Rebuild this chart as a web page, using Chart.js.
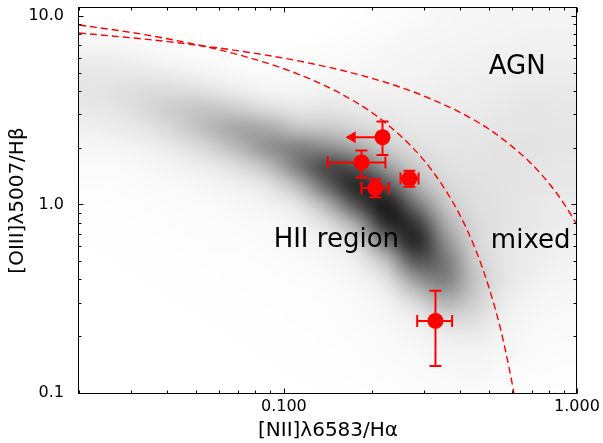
<!DOCTYPE html>
<html>
<head>
<meta charset="utf-8">
<script src="https://cdn.jsdelivr.net/npm/chart.js@4.4.1/dist/chart.umd.min.js"></script>
<style>
  html, body { margin: 0; padding: 0; background: #ffffff; }
  #wrap { width: 603px; height: 443px; }
</style>
</head>
<body>
<div id="wrap"><canvas id="bpt" width="603" height="443"></canvas></div>
<script>
// ---- Axis ticks -------------------------------------------------------
const xMajorTicks = [0.1, 1.0];
const xTickLabels = ['0.100', '1.000'];
const xMinorTicks = [0.02, 0.03, 0.04, 0.05, 0.06, 0.07, 0.08, 0.09, 0.2, 0.3, 0.4, 0.5, 0.6, 0.7, 0.8, 0.9];
const yMajorTicks = [0.1, 1.0, 10.0];
const yTickLabels = ['0.1', '1.0', '10.0'];
const yMinorTicks = [0.2, 0.3, 0.4, 0.5, 0.6, 0.7, 0.8, 0.9, 2, 3, 4, 5, 6, 7, 8, 9];

// ---- Demarcation curves -------------------------------------------------
const kauffmannX = [0.02, 0.03, 0.04, 0.06, 0.08, 0.1, 0.13, 0.16, 0.2, 0.25, 0.3, 0.35, 0.4, 0.45, 0.5, 0.55, 0.58, 0.6, 0.61];
const kauffmannY = [8.94, 8.17, 7.56, 6.61, 5.86, 5.24, 4.45, 3.79, 3.06, 2.31, 1.72, 1.24, 0.868, 0.580, 0.365, 0.215, 0.148, 0.114, 0.099];
const kewleyX = [0.02, 0.03, 0.04, 0.06, 0.08, 0.1, 0.13, 0.16, 0.2, 0.25, 0.3, 0.4, 0.5, 0.6, 0.7, 0.8, 0.9, 1.0];
const kewleyY = [8.11, 7.65, 7.30, 6.75, 6.32, 5.96, 5.50, 5.11, 4.66, 4.18, 3.76, 3.07, 2.51, 2.03, 1.64, 1.30, 1.017, 0.78];

// ---- Measured objects with error bars ---------------------------------
const objX   = [0.217, 0.184, 0.205, 0.268, 0.329];
const objY   = [2.27, 1.67, 1.22, 1.37, 0.241];
const objXLo = [0.165, 0.141, 0.184, 0.250, 0.285];
const objXHi = [0.217, 0.222, 0.228, 0.288, 0.375];
const objYLo = [1.83, 1.39, 1.09, 1.24, 0.139];
const objYHi = [2.75, 1.93, 1.36, 1.51, 0.348];
const objXUpperLimit = [true, false, false, false, false];

// ---- Region labels -----------------------------------------------------
const regionNames = ['AGN', 'HII region', 'mixed'];
const regionX = [0.625, 0.151, 0.695];
const regionY = [4.93, 0.592, 0.585];

// ---- Background galaxy sample: point density on a 0.1-dex grid ----------
const cloudLogX = [-1.65, -1.55, -1.45, -1.35, -1.25, -1.15, -1.05, -0.95, -0.85, -0.75, -0.65, -0.55, -0.45, -0.35, -0.25, -0.15, -0.05];
const cloudLogY = [1.0, 0.9, 0.8, 0.7, 0.6, 0.5, 0.4, 0.3, 0.2, 0.1, 0.0, -0.1, -0.2, -0.3, -0.4, -0.5, -0.6, -0.7, -0.8, -0.9, -1.0];
const cloudDensity = [
  [0, 0, 0, 0, 0, 0, 0, 0, 0, 0.005, 0.01, 0.02, 0.03, 0.035, 0.04, 0.04, 0.04],
  [0.015, 0.01, 0.005, 0, 0, 0, 0, 0, 0.005, 0.01, 0.02, 0.03, 0.035, 0.04, 0.045, 0.05, 0.05],
  [0.06, 0.05, 0.03, 0.02, 0.01, 0.005, 0.005, 0.01, 0.015, 0.02, 0.03, 0.04, 0.045, 0.05, 0.055, 0.06, 0.06],
  [0.09, 0.09, 0.08, 0.06, 0.04, 0.025, 0.02, 0.02, 0.025, 0.03, 0.04, 0.045, 0.055, 0.06, 0.065, 0.07, 0.07],
  [0.10, 0.12, 0.14, 0.14, 0.11, 0.07, 0.045, 0.04, 0.05, 0.05, 0.055, 0.06, 0.065, 0.07, 0.08, 0.085, 0.085],
  [0.09, 0.11, 0.16, 0.21, 0.24, 0.20, 0.14, 0.10, 0.11, 0.09, 0.08, 0.07, 0.075, 0.08, 0.09, 0.10, 0.09],
  [0.06, 0.08, 0.11, 0.18, 0.28, 0.36, 0.34, 0.24, 0.22, 0.17, 0.12, 0.09, 0.09, 0.095, 0.10, 0.10, 0.10],
  [0.03, 0.04, 0.06, 0.10, 0.17, 0.29, 0.44, 0.50, 0.45, 0.34, 0.20, 0.13, 0.10, 0.10, 0.11, 0.11, 0.10],
  [0.02, 0.02, 0.03, 0.05, 0.08, 0.14, 0.26, 0.52, 0.74, 0.66, 0.38, 0.20, 0.12, 0.11, 0.11, 0.10, 0.09],
  [0.01, 0.012, 0.02, 0.025, 0.04, 0.06, 0.11, 0.28, 0.62, 0.88, 0.68, 0.32, 0.16, 0.12, 0.11, 0.10, 0.09],
  [0.005, 0.008, 0.012, 0.015, 0.02, 0.03, 0.05, 0.10, 0.32, 0.70, 0.92, 0.55, 0.22, 0.13, 0.11, 0.09, 0.08],
  [0.003, 0.005, 0.008, 0.01, 0.012, 0.02, 0.025, 0.05, 0.13, 0.36, 0.85, 0.80, 0.33, 0.15, 0.11, 0.09, 0.07],
  [0.002, 0.003, 0.005, 0.006, 0.01, 0.012, 0.018, 0.03, 0.06, 0.15, 0.55, 0.88, 0.45, 0.17, 0.10, 0.08, 0.06],
  [0, 0.002, 0.003, 0.005, 0.006, 0.008, 0.012, 0.018, 0.03, 0.07, 0.25, 0.68, 0.55, 0.20, 0.10, 0.07, 0.05],
  [0, 0, 0.002, 0.003, 0.005, 0.006, 0.008, 0.012, 0.02, 0.04, 0.11, 0.40, 0.52, 0.23, 0.10, 0.06, 0.04],
  [0, 0, 0, 0.002, 0.003, 0.005, 0.006, 0.008, 0.012, 0.025, 0.05, 0.18, 0.34, 0.20, 0.08, 0.045, 0.03],
  [0, 0, 0, 0, 0.002, 0.003, 0.005, 0.006, 0.008, 0.018, 0.03, 0.07, 0.16, 0.14, 0.06, 0.03, 0.025],
  [0, 0, 0, 0, 0, 0.002, 0.003, 0.005, 0.006, 0.012, 0.025, 0.04, 0.07, 0.08, 0.045, 0.025, 0.018],
  [0, 0, 0, 0, 0, 0, 0.002, 0.003, 0.005, 0.008, 0.018, 0.025, 0.04, 0.045, 0.03, 0.018, 0.012],
  [0, 0, 0, 0, 0, 0, 0, 0.002, 0.003, 0.006, 0.012, 0.018, 0.025, 0.03, 0.02, 0.012, 0.008],
  [0, 0, 0, 0, 0, 0, 0, 0, 0.002, 0.005, 0.008, 0.012, 0.018, 0.02, 0.012, 0.006, 0.005]
];

const FONT = "'DejaVu Sans', 'Liberation Sans', sans-serif";
const RED = '#ff0000';

const toPoints = (xs, ys) => xs.map((v, i) => ({ x: v, y: ys[i] }));

// Density field, painted as a smoothly up-scaled bitmap behind the data
const cloudLayer = {
  id: 'cloudLayer',
  beforeDatasetsDraw(chart) {
    const { ctx, chartArea, scales: { x, y } } = chart;
    const nx = cloudLogX.length, ny = cloudLogY.length;
    const off = document.createElement('canvas');
    off.width = nx; off.height = ny;
    const octx = off.getContext('2d');
    const img = octx.createImageData(nx, ny);
    for (let r = 0; r < ny; r++) {
      for (let c = 0; c < nx; c++) {
        const k = (r * nx + c) * 4;
        img.data[k] = 0; img.data[k + 1] = 0; img.data[k + 2] = 0;
        img.data[k + 3] = Math.round(255 * cloudDensity[r][c]);
      }
    }
    octx.putImageData(img, 0, 0);
    const hx = (cloudLogX[1] - cloudLogX[0]) / 2;
    const hy = (cloudLogY[0] - cloudLogY[1]) / 2;
    const left = x.getPixelForValue(Math.pow(10, cloudLogX[0] - hx));
    const right = x.getPixelForValue(Math.pow(10, cloudLogX[nx - 1] + hx));
    const top = y.getPixelForValue(Math.pow(10, cloudLogY[0] + hy));
    const bottom = y.getPixelForValue(Math.pow(10, cloudLogY[ny - 1] - hy));
    ctx.save();
    ctx.beginPath();
    ctx.rect(chartArea.left, chartArea.top, chartArea.right - chartArea.left, chartArea.bottom - chartArea.top);
    ctx.clip();
    ctx.imageSmoothingEnabled = true;
    ctx.imageSmoothingQuality = 'high';
    ctx.drawImage(off, left, top, right - left, bottom - top);
    ctx.restore();
  }
};

// Error bars (with an arrow for upper limits) under the red markers
const errorBars = {
  id: 'errorBars',
  beforeDatasetsDraw(chart) {
    const { ctx, scales: { x, y } } = chart;
    const cap = 6;
    ctx.save();
    ctx.strokeStyle = RED;
    ctx.fillStyle = RED;
    ctx.lineWidth = 2;
    for (let i = 0; i < objX.length; i++) {
      const px = x.getPixelForValue(objX[i]);
      const py = y.getPixelForValue(objY[i]);
      const xl = x.getPixelForValue(objXLo[i]);
      const xh = x.getPixelForValue(objXHi[i]);
      const yl = y.getPixelForValue(objYLo[i]);
      const yh = y.getPixelForValue(objYHi[i]);
      ctx.beginPath();
      ctx.moveTo(xl, py); ctx.lineTo(xh, py);
      ctx.moveTo(px, yl); ctx.lineTo(px, yh);
      ctx.moveTo(px - cap, yl); ctx.lineTo(px + cap, yl);
      ctx.moveTo(px - cap, yh); ctx.lineTo(px + cap, yh);
      if (!objXUpperLimit[i]) {
        ctx.moveTo(xl, py - cap); ctx.lineTo(xl, py + cap);
        ctx.moveTo(xh, py - cap); ctx.lineTo(xh, py + cap);
      }
      ctx.stroke();
      if (objXUpperLimit[i]) {
        ctx.beginPath();
        ctx.moveTo(xl - 2, py);
        ctx.lineTo(xl + 8, py - 6);
        ctx.lineTo(xl + 8, py + 6);
        ctx.closePath();
        ctx.fill();
      }
    }
    ctx.restore();
  }
};

// Region names written inside the plot
const regionText = {
  id: 'regionText',
  afterDatasetsDraw(chart) {
    const { ctx, scales: { x, y } } = chart;
    ctx.save();
    ctx.fillStyle = '#000';
    ctx.font = '26px ' + FONT;
    ctx.textAlign = 'center';
    ctx.textBaseline = 'alphabetic';
    regionNames.forEach((t, i) => {
      ctx.fillText(t, x.getPixelForValue(regionX[i]), y.getPixelForValue(regionY[i]));
    });
    ctx.restore();
  }
};

// Box frame with inward ticks on all four sides
const frameTicks = {
  id: 'frameTicks',
  afterDraw(chart) {
    const { ctx, chartArea: { left, right, top, bottom }, scales: { x, y } } = chart;
    const L = Math.round(left) - 0.5, R = Math.round(right) - 0.5;
    const T = Math.round(top) - 0.5, B = Math.round(bottom) + 0.5;
    ctx.save();
    ctx.strokeStyle = '#000';
    ctx.lineWidth = 1;
    ctx.strokeRect(L, T, R - L, B - T);
    const xTick = (v, len) => {
      const p = Math.round(x.getPixelForValue(v)) + 0.5;
      ctx.moveTo(p, B); ctx.lineTo(p, B - len);
      ctx.moveTo(p, T); ctx.lineTo(p, T + len);
    };
    const yTick = (v, len) => {
      const p = Math.round(y.getPixelForValue(v)) + 0.5;
      ctx.moveTo(L, p); ctx.lineTo(L + len, p);
      ctx.moveTo(R, p); ctx.lineTo(R - len, p);
    };
    ctx.beginPath();
    xMajorTicks.forEach(v => xTick(v, 5));
    xMinorTicks.forEach(v => xTick(v, 3));
    yMajorTicks.forEach(v => yTick(v, 5));
    yMinorTicks.forEach(v => yTick(v, 3));
    ctx.stroke();
    ctx.restore();
  }
};

new Chart(document.getElementById('bpt'), {
  data: {
    datasets: [
      {
        type: 'scatter',
        data: toPoints(objX, objY),
        pointRadius: 8,
        pointHoverRadius: 8,
        pointBackgroundColor: RED,
        pointBorderWidth: 0,
        order: 0
      },
      {
        type: 'line',
        data: toPoints(kauffmannX, kauffmannY),
        borderColor: RED,
        borderWidth: 1.4,
        borderDash: [7, 4],
        pointRadius: 0,
        cubicInterpolationMode: 'monotone',
        fill: false,
        order: 1
      },
      {
        type: 'line',
        data: toPoints(kewleyX, kewleyY),
        borderColor: RED,
        borderWidth: 1.4,
        borderDash: [7, 4],
        pointRadius: 0,
        cubicInterpolationMode: 'monotone',
        fill: false,
        order: 1
      }
    ]
  },
  options: {
    responsive: false,
    devicePixelRatio: 1,
    animation: false,
    layout: { padding: { top: 8, right: 26, left: 0, bottom: 0 } },
    plugins: { legend: { display: false }, tooltip: { enabled: false } },
    scales: {
      x: {
        type: 'logarithmic',
        position: 'bottom',
        min: 0.02,
        max: 1.0,
        grid: { display: false },
        border: { display: false },
        afterBuildTicks: (axis) => { axis.ticks = xMajorTicks.map(v => ({ value: v })); },
        afterFit: (axis) => { axis.height = 50; axis.paddingLeft = 0; axis.paddingRight = 0; },
        ticks: {
          autoSkip: false,
          maxRotation: 0,
          padding: -4,
          color: '#000',
          font: { family: FONT, size: 16 },
          callback: (value, index) => xTickLabels[index]
        },
        title: {
          display: true,
          text: '[NII]λ6583/Hα',
          color: '#000',
          font: { family: FONT, size: 20 },
          padding: { top: 0, bottom: 0 }
        }
      },
      y: {
        type: 'logarithmic',
        position: 'left',
        min: 0.1,
        max: 11,
        grid: { display: false },
        border: { display: false },
        afterBuildTicks: (axis) => { axis.ticks = yMajorTicks.map(v => ({ value: v })); },
        afterFit: (axis) => { axis.width = 79; axis.paddingTop = 0; axis.paddingBottom = 0; },
        ticks: {
          autoSkip: false,
          padding: 7,
          color: '#000',
          font: { family: FONT, size: 16 },
          callback: (value, index) => yTickLabels[index]
        },
        title: {
          display: true,
          text: '[OIII]λ5007/Hβ',
          color: '#000',
          font: { family: FONT, size: 20 },
          padding: { top: 6, bottom: 0 }
        }
      }
    }
  },
  plugins: [cloudLayer, errorBars, regionText, frameTicks]
});
</script>
</body>
</html>
